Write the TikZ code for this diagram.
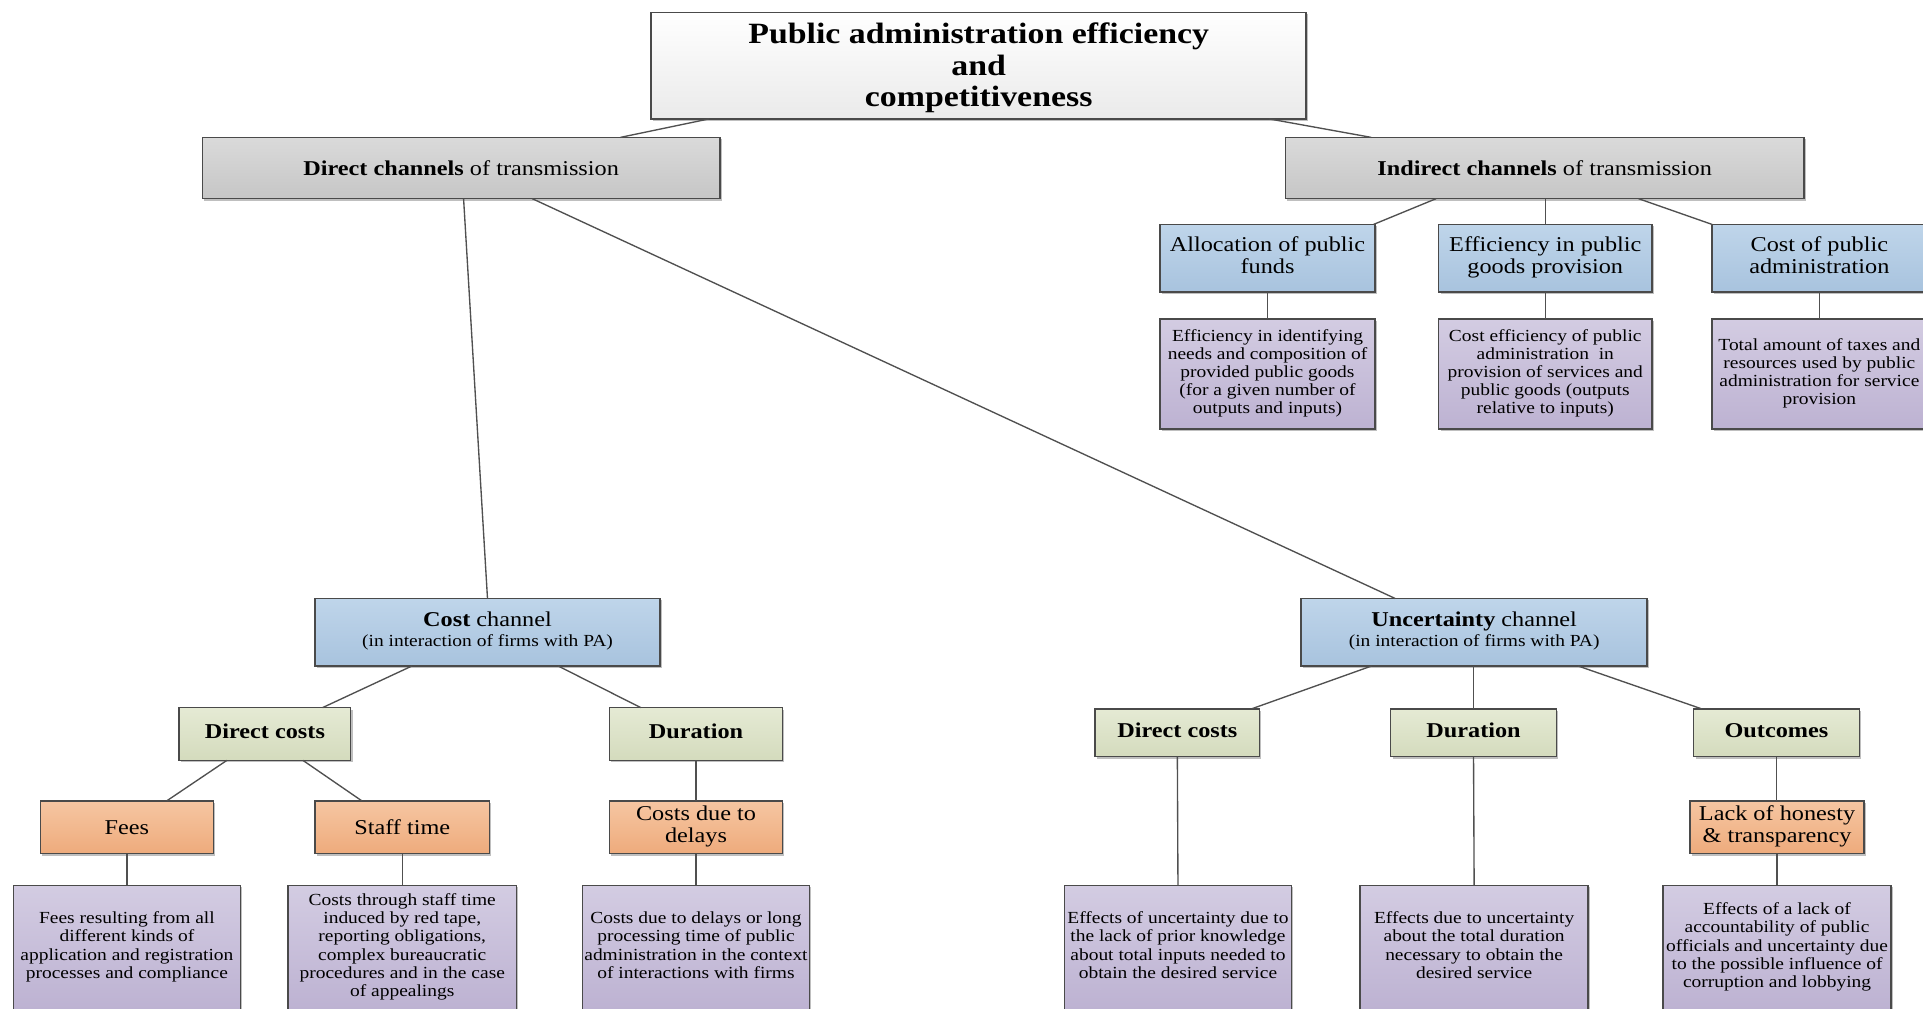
\documentclass[tikz,border=0pt]{standalone}
\usepackage{fontspec}
\setmainfont{Liberation Serif}
\usepackage{graphicx}
\usetikzlibrary{calc,shadows}
\definecolor{bord}{HTML}{4A4A4A}
\definecolor{conncol}{HTML}{505050}
\definecolor{tT}{HTML}{FFFFFF}\definecolor{tB}{HTML}{EAEAEA}
\definecolor{gT}{HTML}{DADADA}\definecolor{gB}{HTML}{C6C6C6}
\definecolor{bT}{HTML}{BFD5EA}\definecolor{bB}{HTML}{A8C3DE}
\definecolor{eT}{HTML}{E5EAD4}\definecolor{eB}{HTML}{D4DBBD}
\definecolor{oT}{HTML}{F6C6A2}\definecolor{oB}{HTML}{EEAB7C}
\definecolor{pT}{HTML}{D3CCE2}\definecolor{pB}{HTML}{BDB2D2}
\newcommand{\tx}[1]{\scalebox{1.15}[1]{\begin{tabular}{@{}c@{}}#1\end{tabular}}}
\newcommand{\txl}[1]{\raisebox{-1.3pt}[\height][\depth]{\tx{#1}}}
% box by corners: style, name, x1, y1, x2, y2, text
\newcommand{\bx}[7]{\node[#1, minimum width={(#5-#3)*0.5pt}, minimum height={(#6-#4)*0.5pt}] (#2) at ({(#3+#5)/2},{(#4+#6)/2}) {#7};}
\begin{document}
\begin{tikzpicture}[x=0.5pt,y=-0.5pt,
  bx/.style={draw=bord, line width=0.6pt, inner sep=0pt, outer sep=0pt, anchor=center,
    drop shadow={shadow xshift=0.8pt,shadow yshift=-0.8pt,opacity=0.25,fill=black}},
  mainf/.style={font=\fontsize{8.6}{9}\selectfont},
  smallf/.style={font=\fontsize{6.9}{7.35}\selectfont},
  titlebox/.style={bx, top color=tT, bottom color=tB, font=\fontsize{12}{12.75}\selectfont\bfseries},
  graybox/.style={bx, top color=gT, bottom color=gB, mainf},
  bluebox/.style={bx, top color=bT, bottom color=bB, mainf},
  greenbox/.style={bx, top color=eT, bottom color=eB, font=\fontsize{8.6}{9}\selectfont\bfseries},
  orangebox/.style={bx, top color=oT, bottom color=oB, mainf},
  purplebox/.style={bx, top color=pT, bottom color=pB, smallf},
  conn/.style={draw=conncol, line width=0.55pt}]
\useasboundingbox (0,0) rectangle (1568,822);
\clip (0,0) rectangle (1568,822);
\fill[white] (0,0) rectangle (1568,822);

% top
\bx{titlebox}{top}{531}{10}{1065}{97}{\txl{Public administration efficiency\\and\\competitiveness}}
\bx{graybox}{dir}{165}{112}{587}{162}{\txl{\textbf{Direct channels} of transmission}}
\bx{graybox}{ind}{1048}{112}{1471}{162}{\txl{\textbf{Indirect channels} of transmission}}

% indirect branch
\bx{bluebox}{alloc}{946}{183}{1121}{238}{\tx{Allocation of public\\funds}}
\bx{bluebox}{effi}{1173}{183}{1347}{238}{\tx{Efficiency in public\\goods provision}}
\bx{bluebox}{costpa}{1396}{183}{1571}{238}{\tx{Cost of public\\administration}}
\bx{purplebox}{allocd}{946}{260}{1121}{350}{\tx{Efficiency in identifying\\needs and composition of\\provided public goods\\(for a given number of\\outputs and inputs)}}
\bx{purplebox}{effid}{1173}{260}{1347}{350}{\tx{Cost efficiency of public\\administration\ \ in\\provision of services and\\public goods (outputs\\relative to inputs)}}
\bx{purplebox}{costpad}{1396}{260}{1571}{350}{\tx{Total amount of taxes and\\resources used by public\\administration for service\\provision}}

% channels
\bx{bluebox, font=\fontsize{8.6}{8}\selectfont}{cost}{257}{488}{538}{543}{\tx{\textbf{Cost} channel\\{\fontsize{6.9}{8}\selectfont(in interaction of firms with PA)}}}
\bx{bluebox, font=\fontsize{8.6}{8}\selectfont}{unc}{1061}{488}{1343}{543}{\tx{\textbf{Uncertainty} channel\\{\fontsize{6.9}{8}\selectfont(in interaction of firms with PA)}}}

% cost branch
\bx{greenbox}{dcl}{146}{577}{286}{620}{\tx{Direct costs}}
\bx{greenbox}{dul}{497}{577}{638}{620}{\tx{Duration}}
\bx{orangebox}{fees}{33}{653}{174}{696}{\txl{Fees}}
\bx{orangebox}{staff}{257}{653}{399}{696}{\txl{Staff time}}
\bx{orangebox}{delay}{497}{653}{638}{696}{\tx{Costs due to\\delays}}
\bx{purplebox}{feesd}{11}{722}{196}{823}{\tx{Fees resulting from all\\different kinds of\\application and registration\\processes and compliance}}
\bx{purplebox}{staffd}{235}{722}{421}{823}{\tx{Costs through staff time\\induced by red tape,\\reporting obligations,\\complex bureaucratic\\procedures and in the case\\of appealings}}
\bx{purplebox}{delayd}{475}{722}{660}{823}{\tx{Costs due to delays or long\\processing time of public\\administration in the context\\of interactions with firms}}

% uncertainty branch
\bx{greenbox}{dcr}{893}{578}{1027}{617}{\tx{Direct costs}}
\bx{greenbox}{dur}{1134}{578}{1269}{617}{\tx{Duration}}
\bx{greenbox}{outc}{1381}{578}{1516}{617}{\tx{Outcomes}}
\bx{orangebox}{lack}{1378}{653}{1520}{696}{\tx{Lack of honesty\\\& transparency}}
\bx{purplebox}{dcrd}{868}{722}{1053}{823}{\tx{Effects of uncertainty due to\\the lack of prior knowledge\\about total inputs needed to\\obtain the desired service}}
\bx{purplebox}{durd}{1109}{722}{1295}{823}{\tx{Effects due to uncertainty\\about the total duration\\necessary to obtain the\\desired service}}
\bx{purplebox}{lackd}{1356}{722}{1542}{823}{\tx{Effects of a lack of\\accountability of public\\officials and uncertainty due\\to the possible influence of\\corruption and lobbying}}

% connectors
\draw[conn] ($(top.south)+(-220,0)$) -- ($(dir.north)+(130,0)$);
\draw[conn] ($(top.south)+(237,0)$) -- ($(ind.north)+(-141.5,0)$);
\draw[conn] ($(ind.south)+(-88.5,0)$) -- ($(alloc.north)+(86.5,0)$);
\draw[conn] (effi.north |- ind.south) -- (effi.north);
\draw[conn] ($(ind.south)+(76.5,0)$) -- ($(costpa.north)+(-87.5,0)$);
\draw[conn] (alloc.south) -- (allocd.north);
\draw[conn] (effi.south) -- (effid.north);
\draw[conn] (costpa.south) -- (costpad.north);
\draw[conn] ($(dir.south)+(2,0)$) -- (cost.north);
\draw[conn] ($(dir.south)+(58,0)$) -- ($(unc.north)+(-64.4,0)$);
\draw[conn] ($(cost.south)+(-61.5,0)$) -- ($(dcl.north)+(47,0)$);
\draw[conn] ($(cost.south)+(57.5,0)$) -- ($(dul.north)+(-45,0)$);
\draw[conn] ($(dcl.south)+(-31,0)$) -- ($(fees.north)+(32.5,0)$);
\draw[conn] ($(dcl.south)+(31,0)$) -- ($(staff.north)+(-33,0)$);
\draw[conn] (dul.south) -- (delay.north);
\draw[conn] (fees.south) -- (feesd.north);
\draw[conn] (staff.south) -- (staffd.north);
\draw[conn] (delay.south) -- (delayd.north);
\draw[conn] ($(unc.south)+(-83.5,0)$) -- ($(dcr.north)+(60.5,0)$);
\draw[conn] (dur.north |- unc.south) -- (dur.north);
\draw[conn] ($(unc.south)+(84.6,0)$) -- ($(outc.north)+(-61,0)$);
\draw[conn] (dcr.south) -- (dcrd.north);
\draw[conn] (dur.south) -- (durd.north);
\draw[conn] (outc.south) -- (outc.south |- lack.north);
\draw[conn] (lack.south) -- (lackd.north);
\end{tikzpicture}
\end{document}
